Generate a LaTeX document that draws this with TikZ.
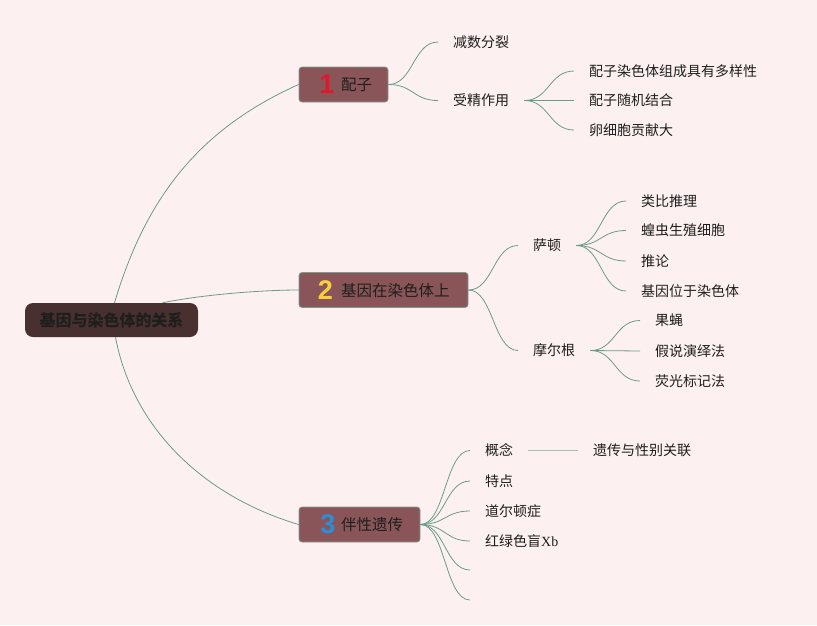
\documentclass[tikz,border=0pt]{standalone}
\usepackage{fontspec}
\setmainfont{Noto Sans CJK SC}
\newfontfamily\numf{Liberation Sans}
\newfontfamily\serf{Liberation Serif}
\usetikzlibrary{calc}
\definecolor{bgc}{HTML}{FDF0F0}
\definecolor{edgec}{HTML}{6A9C8C}
\definecolor{lightedge}{HTML}{A9BFB2}
\definecolor{boxfill}{HTML}{8A5558}
\definecolor{boxborder}{HTML}{7C9C8E}
\definecolor{rootfill}{HTML}{47302F}
\definecolor{txtc}{HTML}{1E1E1E}
\definecolor{numred}{HTML}{E0182E}
\definecolor{numyellow}{HTML}{F5D040}
\definecolor{numblue}{HTML}{2A8FD8}
\begin{document}
\begin{tikzpicture}[x=1pt,y=-1pt,
  edge/.style={draw=edgec, line width=0.8pt},
  mm/.style={to path={let \p1=(\tikztostart),\p2=(\tikztotarget) in
     .. controls ({(\x1+\x2)/2},\y1) and ({(\x1+\x2)/2},\y2) .. (\tikztotarget)}},
  txt/.style={anchor=west, inner xsep=15pt, inner ysep=0pt, text=txtc,
     font=\fontsize{14pt}{16pt}\selectfont},
  mbox/.style={draw=boxborder, fill=boxfill, rounded corners=3pt, line width=0.8pt,
     inner sep=0pt, minimum height=35pt},
  mlabel/.style={anchor=west, inner sep=0pt, text=txtc, font=\fontsize{15.5pt}{18pt}\selectfont},
  num/.style={inner sep=0pt, font=\numf\bfseries\fontsize{27pt}{30pt}\selectfont},
  rootbox/.style={fill=rootfill, rounded corners=8pt, inner sep=0pt,
     minimum width=173pt, minimum height=34pt, text=txtc,
     font=\bfseries\fontsize{16pt}{18pt}\selectfont}
]
\useasboundingbox (0,0) rectangle (817,625);
\fill[bgc] (0,0) rectangle (817,625);

% root
\node[rootbox] (root) at (111.5,320) {基因与染色体的关系};

% main boxes
\node[mbox, minimum width=89pt] (m1) at (343.5,84.5) {};
\node[num, text=numred] (n1) at (327,84.5) {1};
\node[mlabel] (l1) at (341,85) {配子};

\node[mbox, minimum width=169pt] (m2) at (383.5,290) {};
\node[num, text=numyellow] (n2) at (325.5,290) {2};
\node[mlabel] (l2) at (341,290.5) {基因在染色体上};

\node[mbox, minimum width=121pt] (m3) at (359.5,524.5) {};
\node[num, text=numblue] (n3) at (328,524.5) {3};
\node[mlabel] (l3) at (341,525) {伴性遗传};

% root edges
\draw[edge] ([xshift=3pt]root.north) .. controls (145.6,198.4) and (198.4,129.4) .. (m1.west);
\draw[edge] ([xshift=51pt]root.north) .. controls (200,295) and (260,290) .. (m2.west);
\draw[edge] ([xshift=4pt]root.south) .. controls (132,425) and (200,495) .. (m3.west);

% branch 1
\node[txt] (a1) at (438,42) {减数分裂};
\node[txt] (a2) at (438,100.5) {受精作用};
\draw[edge] (m1.east) to[mm] (a1.west);
\draw[edge] (m1.east) to[mm] (a2.west);
\node[txt] (a21) at (574,71) {配子染色体组成具有多样性};
\node[txt] (a22) at (574,100.5) {配子随机结合};
\node[txt] (a23) at (574,130) {卵细胞贡献大};
\draw[edge, line width=1.6pt] (a2.east) -- ++(7,0);
\foreach \t in {a21,a22,a23} \draw[edge] (a2.east) to[mm] (\t.west);

% branch 2
\node[txt] (b1) at (518,245.5) {萨顿};
\node[txt] (b2) at (518,350.5) {摩尔根};
\draw[edge] (m2.east) to[mm] (b1.west);
\draw[edge] (m2.east) to[mm] (b2.west);
\node[txt] (b11) at (626,201) {类比推理};
\node[txt] (b12) at (626,230.5) {蝗虫生殖细胞};
\node[txt] (b13) at (626,261) {推论};
\node[txt] (b14) at (626,291) {基因位于染色体};
\draw[edge, line width=1.6pt] (b1.east) -- ++(7,0);
\foreach \t in {b11,b12,b13,b14} \draw[edge] (b1.east) to[mm] (\t.west);
\node[txt] (b21) at (640,320.5) {果蝇};
\node[txt] (b22) at (640,351) {假说演绎法};
\node[txt] (b23) at (640,381) {荧光标记法};
\draw[edge, line width=1.6pt] (b2.east) -- ++(7,0);
\foreach \t in {b21,b22,b23} \draw[edge] (b2.east) to[mm] (\t.west);

% branch 3
\node[txt] (c1) at (470,450.5) {概念};
\node[txt] (c2) at (470,481) {特点};
\node[txt] (c3) at (470,511) {道尔顿症};
\node[txt] (c4) at (470,541) {红绿色盲{\serf Xb}};
\coordinate (c5) at (470,570);
\coordinate (c6) at (470,600);
\draw[edge, line width=1.6pt] (m3.east) -- ++(6,0);
\foreach \t in {c1,c2,c3,c4} \draw[edge] (m3.east) to[mm] (\t.west);
\foreach \t in {c5,c6} \draw[edge] (m3.east) to[mm] (\t);
\node[txt] (c11) at (578,450.5) {遗传与性别关联};
\draw[draw=lightedge, line width=1.2pt] (c1.east) -- (c11.west);
\end{tikzpicture}
\end{document}
